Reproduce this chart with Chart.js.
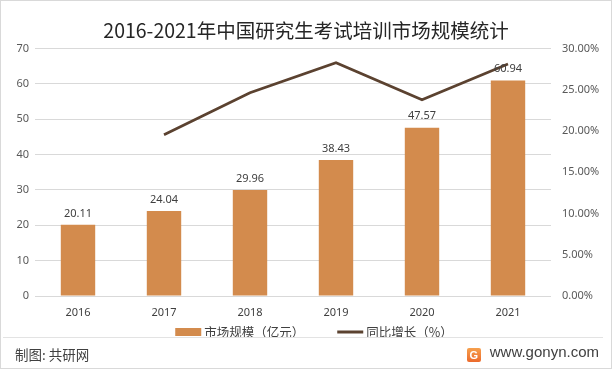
<!DOCTYPE html>
<html>
<head>
<meta charset="utf-8">
<script src="https://cdn.jsdelivr.net/npm/chart.js@4"></script>
<style>
  body { margin: 0; background: #fff; }
  #wrap { position: relative; width: 610px; height: 367px; border: 1px solid #d9d9d9; background: #fff; font-family: "Noto Sans CJK SC", "Noto Sans", sans-serif; }
  #chartBox { position: absolute; left: 0; top: 0; width: 610px; height: 367px; }
  #sep { position: absolute; left: 2px; right: 8px; top: 336px; border-top: 1px solid #e3e3e3; }
  #src { position: absolute; left: 14px; top: 343px; font-size: 13.5px; color: #404040; }
  #site { position: absolute; right: 12px; top: 342px; font-size: 15px; color: #404040; font-family: "Liberation Sans", Arial, sans-serif; }
  #logo { display: inline-block; width: 14px; height: 14px; background: linear-gradient(#f6a04d, #ec6a2c); color: #fff; font-size: 11px; line-height: 14px; text-align: center; border-radius: 2px; margin-right: 9px; vertical-align: -2px; font-weight: bold; }
</style>
</head>
<body>
<div id="wrap">
  <div id="chartBox"><canvas id="myChart"></canvas></div>
  <div id="sep"></div>
  <div id="src">制图: 共研网</div>
  <div id="site"><span id="logo">G</span>www.gonyn.com</div>
</div>
<script>
// data
var years = ['2016', '2017', '2018', '2019', '2020', '2021'];
var marketSize = [20.11, 24.04, 29.96, 38.43, 47.57, 60.94];
var growthRate = [null, 19.54, 24.63, 28.27, 23.78, 28.11];
var leftTicks = [0, 10, 20, 30, 40, 50, 60, 70];
var rightTicks = [0, 5, 10, 15, 20, 25, 30];

// labels above the bars
var barLabels = {
  id: 'barLabels',
  afterDatasetsDraw: function(chart) {
    var ctx = chart.ctx;
    var meta = chart.getDatasetMeta(0);
    ctx.save();
    ctx.font = '11px "Noto Sans", sans-serif';
    ctx.fillStyle = '#404040';
    ctx.textAlign = 'center';
    ctx.textBaseline = 'bottom';
    meta.data.forEach(function(bar, i) {
      ctx.fillText(marketSize[i].toFixed(2), bar.x, bar.y - 6);
    });
    ctx.restore();
  }
};

// legend under the axis, built from the datasets
var bottomLegend = {
  id: 'bottomLegend',
  afterDraw: function(chart) {
    var ctx = chart.ctx;
    var ds = chart.data.datasets;
    var y = 331;
    ctx.save();
    ctx.font = '12.5px "Noto Sans CJK SC", sans-serif';
    var w0 = ctx.measureText(ds[0].label).width;
    var w1 = ctx.measureText(ds[1].label).width;
    var total = 26 + 3 + w0 + 33 + 26 + 3 + w1;
    var x = 313 - total / 2;
    ctx.fillStyle = ds[0].backgroundColor;
    ctx.fillRect(x, y - 4, 26, 8);
    ctx.fillStyle = '#404040';
    ctx.textBaseline = 'middle';
    ctx.fillText(ds[0].label, x + 29, y);
    x += 29 + w0 + 33;
    ctx.strokeStyle = ds[1].borderColor;
    ctx.lineWidth = 3;
    ctx.beginPath();
    ctx.moveTo(x, y);
    ctx.lineTo(x + 26, y);
    ctx.stroke();
    ctx.fillText(ds[1].label, x + 29, y);
    ctx.restore();
  }
};

var ctx = document.getElementById('myChart').getContext('2d');
var myChart = new Chart(ctx, {
  data: {
    labels: years,
    datasets: [{
      type: 'bar',
      label: '市场规模（亿元）',
      data: marketSize,
      backgroundColor: '#d38b4d',
      categoryPercentage: 1,
      barPercentage: 0.4,
      yAxisID: 'y',
      order: 2
    }, {
      type: 'line',
      label: '同比增长（%）',
      data: growthRate,
      borderColor: '#5b4230',
      borderWidth: 2.75,
      pointRadius: 0,
      tension: 0,
      yAxisID: 'y1',
      order: 1
    }]
  },
  options: {
    responsive: true,
    maintainAspectRatio: false,
    animation: false,
    layout: { padding: { left: 0, right: 0, top: 0, bottom: 50 } },
    plugins: {
      title: {
        display: true,
        text: '2016-2021年中国研究生考试培训市场规模统计',
        color: '#262626',
        font: { size: 19.5, family: '"Noto Sans CJK SC", sans-serif', weight: 'normal' },
        padding: { top: 18, bottom: 6 }
      },
      legend: { display: false },
      tooltip: { enabled: false }
    },
    scales: {
      x: {
        grid: { display: false, drawTicks: false },
        border: { display: false },
        ticks: { color: '#404040', font: { size: 11, family: '"Noto Sans", sans-serif' }, padding: 10 },
        afterFit: function(scale) { scale.height = 22; }
      },
      y: {
        position: 'left',
        min: 0,
        max: 70,
        afterBuildTicks: function(axis) { axis.ticks = leftTicks.map(function(v) { return { value: v }; }); },
        grid: { color: '#d9d9d9', drawTicks: false },
        border: { display: false },
        ticks: { color: '#595959', font: { size: 11, family: '"Noto Sans", sans-serif' }, padding: 6 },
        afterFit: function(scale) { scale.width = 34; }
      },
      y1: {
        position: 'right',
        min: 0,
        max: 30,
        afterBuildTicks: function(axis) { axis.ticks = rightTicks.map(function(v) { return { value: v }; }); },
        grid: { display: false, drawTicks: false },
        border: { display: false },
        ticks: {
          color: '#595959',
          font: { size: 11, family: '"Noto Sans", sans-serif' },
          padding: 11,
          callback: function(v) { return v.toFixed(2) + '%'; }
        },
        afterFit: function(scale) { scale.width = 60; }
      }
    }
  },
  plugins: [barLabels, bottomLegend]
});
</script>
</body>
</html>
